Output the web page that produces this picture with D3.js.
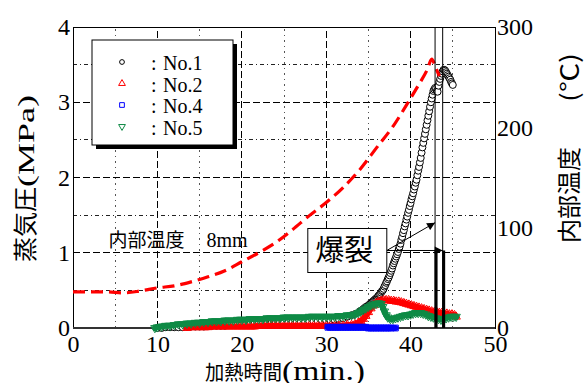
<!DOCTYPE html>
<html lang="ja">
<head>
<meta charset="UTF-8">
<title>蒸気圧と内部温度</title>
<script src="https://cdn.jsdelivr.net/npm/d3@7"></script>
<style>
  body { margin: 0; background: #fff; }
  svg { display: block; }
  .num { font-family: "Liberation Serif", "Times New Roman", serif; }
  .jp { font-family: "Noto Sans CJK JP", sans-serif; }
</style>
</head>
<body>
<div id="chart"></div>
<script>
// ---- data ----
const xTicks = [0, 10, 20, 30, 40, 50];
const yTicks = [0, 1, 2, 3, 4];
const tTicks = [0, 100, 200, 300];
const gridMajorX = [10, 20, 30, 40];
const gridMinorX = [5, 15, 25, 35, 45];
const gridMajorY = [1, 2, 3];
const gridMinorY = [0.5, 1.5, 2.5, 3.5];
const legendNames = ["No.1", "No.2", "No.4", "No.5"];

// No.1 : [time (min), vapour pressure (MPa)]
const no1 = [
  [10,0.00],[10.5,0.00],[11,0.01],[11.5,0.01],[12,0.01],[12.5,0.01],[13,0.01],[13.5,0.02],[14,0.02],[14.5,0.02],
  [15,0.02],[15.5,0.02],[16,0.03],[16.5,0.03],[17,0.03],[17.5,0.03],[18,0.03],[18.5,0.04],[19,0.04],[19.5,0.04],
  [20,0.04],[20.5,0.05],[21,0.05],[21.5,0.05],[22,0.05],[22.5,0.06],[23,0.06],[23.5,0.06],[24,0.06],[24.5,0.07],
  [25,0.07],[25.5,0.07],[26,0.08],[26.5,0.08],[27,0.08],[27.5,0.08],[28,0.09],[28.5,0.09],[29,0.09],[29.5,0.10],
  [30,0.10],[30.5,0.10],[31,0.11],[31.5,0.12],[32,0.13],[32.5,0.15],[33,0.17],[33.5,0.19],
  [34.0,0.22],[34.1,0.23],[34.2,0.23],[34.3,0.24],[34.4,0.25],[34.5,0.26],[34.6,0.27],[34.7,0.28],[34.8,0.28],[34.9,0.29],
  [35.0,0.30],[35.1,0.31],[35.2,0.32],[35.3,0.33],[35.4,0.34],[35.5,0.35],[35.6,0.36],[35.7,0.37],[35.8,0.38],[35.9,0.39],
  [36.0,0.40],[36.1,0.41],[36.2,0.43],[36.3,0.44],[36.4,0.45],[36.5,0.47],[36.6,0.49],[36.7,0.50],[36.8,0.52],[36.9,0.55],
  [37.0,0.57],[37.1,0.60],[37.2,0.62],[37.3,0.65],[37.4,0.67],[37.5,0.70],[37.6,0.73],[37.7,0.76],[37.8,0.79],[37.9,0.83],
  [38.0,0.86],[38.1,0.89],[38.2,0.92],[38.3,0.95],[38.4,0.98],[38.5,1.01],[38.6,1.05],[38.7,1.08],[38.8,1.12],[38.9,1.17],
  [39.0,1.21],[39.1,1.26],[39.2,1.30],[39.3,1.35],[39.4,1.39],[39.5,1.44],[39.6,1.48],[39.7,1.53],[39.8,1.57],[39.9,1.62],
  [40.0,1.66],[40.1,1.71],[40.2,1.75],[40.3,1.79],[40.4,1.84],[40.5,1.88],[40.6,1.93],[40.7,1.97],[40.8,2.03],[40.9,2.09],
  [41.0,2.14],[41.1,2.20],[41.2,2.26],[41.3,2.33],[41.4,2.40],[41.5,2.46],[41.6,2.52],[41.7,2.58],[41.8,2.64],[41.9,2.70],
  [42.0,2.76],[42.1,2.82],[42.2,2.88],[42.3,2.94],[42.4,3.00],[42.5,3.05],[42.6,3.10],[42.7,3.15],[42.8,3.17],[42.9,3.19],
  [43.0,3.18],[43.1,3.15],[43.2,3.14],[43.3,3.22],[43.4,3.27],[43.5,3.31],[43.6,3.35],[43.7,3.38],[43.8,3.41],[43.9,3.43],
  [44.0,3.43],[44.1,3.42],[44.2,3.40],[44.3,3.38],[44.4,3.36],[44.5,3.34],[44.6,3.32],[44.7,3.30],[44.8,3.27],[44.9,3.25],[45.0,3.23]
];

// No.2
const no2 = [
  [13.5,0.00],[14,0.01],[14.5,0.01],[15,0.01],[15.5,0.01],[16,0.01],[16.5,0.02],[17,0.02],[17.5,0.02],[18,0.02],
  [18.5,0.02],[19,0.02],[19.5,0.02],[20,0.02],[20.5,0.02],[21,0.02],[21.5,0.02],[22,0.03],[22.5,0.03],[23,0.03],
  [23.5,0.03],[24,0.03],[24.5,0.03],[25,0.03],[25.5,0.03],[26,0.03],[26.5,0.03],[27,0.03],[27.5,0.03],[28,0.03],
  [28.5,0.03],[29,0.03],[29.5,0.03],[30,0.03],[30.5,0.03],[31,0.03],[31.5,0.03],[32,0.03],[32.5,0.04],[33,0.04],
  [33.4,0.05],[33.8,0.07],[34.1,0.09],[34.4,0.12],[34.7,0.16],[35,0.21],[35.3,0.26],[35.6,0.30],[35.9,0.33],[36.2,0.35],
  [36.5,0.36],[36.8,0.37],[37.1,0.37],[37.4,0.37],[37.7,0.36],[38,0.36],[38.3,0.35],[38.6,0.35],[38.9,0.34],[39.2,0.33],
  [39.5,0.32],[39.8,0.31],[40.1,0.30],[40.4,0.29],[40.7,0.28],[41,0.27],[41.3,0.26],[41.6,0.25],[41.9,0.24],[42.2,0.23],
  [42.5,0.22],[42.8,0.21],[43.1,0.21],[43.4,0.20],[43.7,0.20],[44,0.19],[44.3,0.19],[44.6,0.18],[44.9,0.18],[45.2,0.17],[45.4,0.15]
];

// No.4
const no4 = [
  [30.2,0.01],[30.5,0.01],[30.8,0.01],[31.1,0.01],[31.4,0.01],[31.7,0.01],[32,0.01],[32.3,0.01],[32.6,0.01],[32.9,0.01],
  [33.2,0.01],[33.5,0.01],[33.8,0.01],[34.1,0.01],[34.4,0.01],[34.7,0.01],[35,0.00],[35.3,0.00],[35.6,0.00],[35.9,0.00],
  [36.2,0.00],[36.5,0.00],[36.8,0.00],[37.1,0.00],[37.4,0.00],[37.7,0.00],[38.2,0.00]
];

// No.5
const no5 = [
  [9.7,0.00],[10,0.01],[10.5,0.02],[11,0.03],[11.5,0.03],[12,0.04],[12.5,0.05],[13,0.05],[13.5,0.06],[14,0.06],
  [14.5,0.07],[15,0.07],[15.5,0.08],[16,0.08],[16.5,0.09],[17,0.09],[17.5,0.09],[18,0.10],[18.5,0.10],[19,0.10],
  [19.5,0.11],[20,0.11],[20.5,0.11],[21,0.12],[21.5,0.12],[22,0.12],[22.5,0.12],[23,0.13],[23.5,0.13],[24,0.13],
  [24.5,0.13],[25,0.14],[25.5,0.14],[26,0.14],[26.5,0.14],[27,0.14],[27.5,0.14],[28,0.15],[28.5,0.15],[29,0.15],
  [29.5,0.15],[30,0.15],[30.5,0.15],[31,0.15],[31.5,0.16],[32,0.16],[32.5,0.17],[33,0.17],[33.4,0.18],[33.8,0.20],
  [34.1,0.22],[34.4,0.24],[34.7,0.26],[35,0.28],[35.3,0.30],[35.6,0.31],[35.9,0.32],[36.2,0.33],[36.5,0.32],[36.7,0.28],
  [36.9,0.22],[37.1,0.17],[37.3,0.14],[37.6,0.12],[37.9,0.12],[38.2,0.13],[38.5,0.14],[38.8,0.15],[39.1,0.16],[39.4,0.17],
  [39.7,0.17],[40,0.18],[40.3,0.19],[40.6,0.20],[40.9,0.20],[41.2,0.20],[41.5,0.19],[41.8,0.18],[42.1,0.16],[42.4,0.15],
  [42.7,0.14],[43,0.13],[43.3,0.12],[43.6,0.11],[43.9,0.12],[44.2,0.13],[44.5,0.14],[44.8,0.15],[45.1,0.15],[45.4,0.15]
];

// internal temperature at 8 mm (right axis, °C)
const tempTime  = [0, 2, 4, 6, 8, 10, 12, 14, 16, 18, 20, 22, 24, 26, 28, 30, 32, 34, 36, 38, 40, 41, 42, 42.5, 43, 43.4];
const tempValue = [36, 36, 36, 35, 37, 40, 42, 46, 51, 57, 66, 75, 85, 98, 112, 125, 140, 158, 180, 202, 229, 243, 258, 268, 259, 251];

// burst (爆裂) times and annotation levels
const burstTimes = [42.9, 43.8];
const burstArrowMPa = [1.4, 1.03];
const burstBarMPa = 1.03;
const burstLabelAt = [32.5, 1.03];
const tempNoteAt = [4.2, 1.08];

// ---- chart ----
const W = 584, H = 383;
const SERIF = "'Liberation Serif', 'Times New Roman', serif";
const JP = "'Noto Sans CJK JP', sans-serif";
const svg = d3.select("#chart").append("svg").attr("width", W).attr("height", H);

const x = d3.scaleLinear().domain([0, 50]).range([73, 495]);
const y = d3.scaleLinear().domain([0, 4]).range([328, 27]);
const yT = d3.scaleLinear().domain([0, 300]).range([328, 27]);

// grid
const grid = svg.append("g").attr("shape-rendering", "crispEdges");
grid.selectAll(".vmin").data(gridMinorX).join("line").attr("class", "vmin")
  .attr("x1", d => x(d)).attr("x2", d => x(d)).attr("y1", y(0)).attr("y2", y(4))
  .attr("stroke", "#555").attr("stroke-dasharray", "2,4,1,4");
grid.selectAll(".hmin").data(gridMinorY).join("line").attr("class", "hmin")
  .attr("x1", x(0)).attr("x2", x(50)).attr("y1", d => y(d)).attr("y2", d => y(d))
  .attr("stroke", "#222").attr("stroke-dasharray", "4,3,1,3");
grid.selectAll(".vmaj").data(gridMajorX).join("line").attr("class", "vmaj")
  .attr("x1", d => x(d)).attr("x2", d => x(d)).attr("y1", y(0)).attr("y2", y(4))
  .attr("stroke", "#000").attr("stroke-dasharray", "7,3");
grid.selectAll(".hmaj").data(gridMajorY).join("line").attr("class", "hmaj")
  .attr("x1", x(0)).attr("x2", x(50)).attr("y1", d => y(d)).attr("y2", d => y(d))
  .attr("stroke", "#000").attr("stroke-dasharray", "7,3");

// frame (under the series, as in the original)
svg.append("rect").attr("x", x(0)).attr("y", y(4))
  .attr("width", x(50) - x(0)).attr("height", y(0) - y(4))
  .attr("fill", "none").attr("stroke", "#000").attr("shape-rendering", "crispEdges");
svg.append("line").attr("x1", x(0)).attr("x2", x(50)).attr("y1", y(0)).attr("y2", y(0))
  .attr("stroke", "#333").attr("stroke-width", 2);

// series
const circleSym = d3.symbol().type(d3.symbolCircle).size(38)();
const triSym = d3.symbol().type(d3.symbolTriangle).size(30)();
const sqSym = d3.symbol().type(d3.symbolSquare).size(34)();

function drawSeries(data, color, sym, rot, band) {
  const g = svg.append("g");
  if (band) {
    g.append("path").datum(data)
      .attr("fill", "none").attr("stroke", color).attr("stroke-width", band)
      .attr("stroke-linejoin", "round").attr("stroke-linecap", "round")
      .attr("d", d3.line().x(d => x(d[0])).y(d => y(d[1])));
  }
  g.selectAll("path.m").data(data).join("path").attr("class", "m")
    .attr("transform", d => `translate(${x(d[0])},${y(d[1])}) rotate(${rot})`)
    .attr("d", sym)
    .attr("fill", band ? "none" : "#fff")
    .attr("stroke", color).attr("stroke-width", 1);
}
drawSeries(no1, "#000", circleSym, 0, 0);
drawSeries(no2, "#ff0000", triSym, 0, 6);
drawSeries(no4, "#0000ff", sqSym, 0, 6);
drawSeries(no5, "#0e8a45", triSym, 180, 6);

// temperature line
const tempData = tempTime.map((t, i) => [t, tempValue[i]]);
svg.append("path").datum(tempData)
  .attr("fill", "none").attr("stroke", "#ff0000").attr("stroke-width", 3.2)
  .attr("stroke-dasharray", "12,6")
  .attr("d", d3.line().x(d => x(d[0])).y(d => yT(d[1])).curve(d3.curveMonotoneX));

// burst markers
svg.selectAll(".bthin").data(burstTimes).join("line").attr("class", "bthin")
  .attr("x1", d => x(d)).attr("x2", d => x(d)).attr("y1", y(0)).attr("y2", y(4))
  .attr("stroke", "#000").attr("stroke-width", 1);
svg.selectAll(".bthick").data(burstTimes).join("line").attr("class", "bthick")
  .attr("x1", d => x(d) + 1).attr("x2", d => x(d) + 1).attr("y1", y(0)).attr("y2", y(burstBarMPa))
  .attr("stroke", "#000").attr("stroke-width", 3);

svg.append("defs").append("marker").attr("id", "ah")
  .attr("viewBox", "0 0 10 10").attr("refX", 10).attr("refY", 5)
  .attr("markerWidth", 9).attr("markerHeight", 8).attr("markerUnits", "userSpaceOnUse")
  .attr("orient", "auto")
  .append("path").attr("d", "M0,0L10,5L0,10z").attr("fill", "#000");

const boxW = 79, boxH = 44;
const bx = x(burstLabelAt[0]), by = y(burstLabelAt[1]);
svg.selectAll(".arrow").data(burstTimes).join("line").attr("class", "arrow")
  .attr("x1", bx + boxW / 2).attr("y1", by)
  .attr("x2", d => x(d)).attr("y2", (d, i) => y(burstArrowMPa[i]))
  .attr("stroke", "#000").attr("stroke-width", 1).attr("marker-end", "url(#ah)");
svg.append("rect").attr("x", bx - boxW / 2).attr("y", by - boxH / 2)
  .attr("width", boxW).attr("height", boxH)
  .attr("fill", "#fff").attr("stroke", "#000").attr("stroke-width", 1);
svg.append("text").attr("font-family", JP).attr("x", bx - 3).attr("y", by + 11)
  .attr("text-anchor", "middle").attr("font-size", 29).text("爆裂");

// internal temperature note
const note = svg.append("text").attr("x", x(tempNoteAt[0])).attr("y", y(tempNoteAt[1]))
  .attr("font-size", 19);
note.append("tspan").attr("font-family", JP).text("内部温度");
note.append("tspan").attr("font-family", SERIF).attr("dx", 22).attr("font-size", 20).text("8mm");

// axes tick labels
const axL = svg.append("g").attr("transform", `translate(${x(0)},0)`)
  .call(d3.axisLeft(y).tickValues(yTicks).tickSize(0).tickPadding(3).tickFormat(d3.format("d")));
const axR = svg.append("g").attr("transform", `translate(${x(50)},0)`)
  .call(d3.axisRight(yT).tickValues(tTicks).tickSize(0).tickPadding(2));
const axB = svg.append("g").attr("transform", `translate(0,${y(0)})`)
  .call(d3.axisBottom(x).tickValues(xTicks).tickSize(0).tickPadding(7));
[axL, axR, axB].forEach(a => {
  a.select(".domain").remove();
  a.attr("font-family", SERIF).attr("font-size", 24);
  a.selectAll("text").attr("fill", "#000");
});

// axis titles
const lt = svg.append("g").attr("transform", "translate(34,0) rotate(-90)");
lt.append("text").attr("font-family", JP).attr("x", -262).attr("y", 0).attr("font-size", 24)
  .attr("textLength", 75).attr("lengthAdjust", "spacingAndGlyphs").text("蒸気圧");
lt.append("text").attr("font-family", SERIF).attr("x", -187).attr("y", 0).attr("font-size", 24)
  .attr("textLength", 92).attr("lengthAdjust", "spacingAndGlyphs").text("(MPa)");

const rt = svg.append("g").attr("transform", "translate(578,0) rotate(-90)");
rt.append("text").attr("font-family", JP).attr("x", -243).attr("y", 0).attr("font-size", 24)
  .attr("textLength", 96).attr("lengthAdjust", "spacingAndGlyphs").text("内部温度");
rt.append("text").attr("font-family", JP).attr("x", -102).attr("y", 0).attr("font-size", 24)
  .attr("textLength", 49).attr("lengthAdjust", "spacingAndGlyphs").text("(℃)");

svg.append("text").attr("font-family", JP).attr("x", 205).attr("y", 380).attr("font-size", 20)
  .attr("textLength", 77).attr("lengthAdjust", "spacingAndGlyphs").text("加熱時間");
svg.append("text").attr("font-family", SERIF).attr("x", 282).attr("y", 380).attr("font-size", 27)
  .attr("textLength", 83).attr("lengthAdjust", "spacingAndGlyphs").text("(min.)");

// legend
const lg = svg.append("g").attr("transform", "translate(92,40)");
lg.append("rect").attr("x", 4).attr("y", 4).attr("width", 141).attr("height", 105).attr("fill", "#000");
lg.append("rect").attr("x", 0).attr("y", 0).attr("width", 141).attr("height", 105)
  .attr("fill", "#fff").attr("stroke", "#000").attr("stroke-width", 1);
const legendSyms = [
  [d3.symbol().type(d3.symbolCircle).size(18)(), "#000", 0],
  [d3.symbol().type(d3.symbolTriangle).size(20)(), "#ff0000", 0],
  [d3.symbol().type(d3.symbolSquare).size(22)(), "#0000ff", 0],
  [d3.symbol().type(d3.symbolTriangle).size(20)(), "#0e8a45", 180]
];
const rows = lg.selectAll(".row").data(legendNames).join("g").attr("class", "row")
  .attr("transform", (d, i) => `translate(0,${30 + i * 21.5})`);
rows.append("path")
  .attr("transform", (d, i) => `translate(30,-8) rotate(${legendSyms[i][2]})`)
  .attr("d", (d, i) => legendSyms[i][0])
  .attr("fill", "#fff").attr("stroke", (d, i) => legendSyms[i][1]).attr("stroke-width", 1);
rows.append("text").attr("font-family", SERIF).attr("x", 59).attr("font-size", 20).text(":");
rows.append("text").attr("font-family", SERIF).attr("x", 71).attr("font-size", 20).text(d => d);
</script>
</body>
</html>
